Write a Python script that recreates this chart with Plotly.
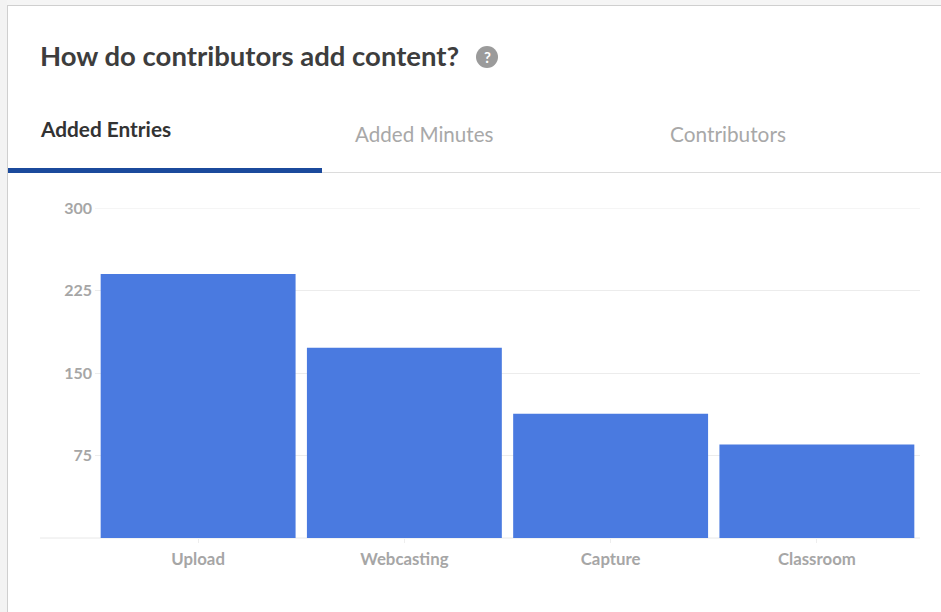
import plotly.graph_objects as go

categories = ["Upload", "Webcasting", "Capture", "Classroom"]
entries = [240, 173, 113, 85]
y_ticks = [75, 150, 225, 300]
tabs = ["Added Entries", "Added Minutes", "Contributors"]
title_text = "How do contributors add content?"

W, H = 941, 612
L, R, T, B = 95, 920, 208, 538


def fx(px):
    return (px - L) / (R - L)


def fy(py):
    return (B - py) / (B - T)


def rect(x0, y0, x1, y1, fill):
    return dict(type="rect", xref="paper", yref="paper", layer="below",
                x0=fx(x0), x1=fx(x1), y0=fy(y1), y1=fy(y0),
                fillcolor=fill, line=dict(color=fill, width=0))


def text(s, x, y, size, color, anchor="left", family="Lato"):
    return dict(text=s, xref="paper", yref="paper", x=fx(x), y=fy(y),
                xanchor=anchor, yanchor="middle", showarrow=False,
                font=dict(family=family, size=size, color=color))


fig = go.Figure(go.Bar(x=categories, y=entries, marker=dict(color="#4a7ae0", line=dict(width=0)),
                       width=0.945))

shapes = [
    rect(0, 0, W, 5, "#f5f5f5"),
    rect(0, 0, 7, H, "#f3f3f3"),
    rect(7, 5, W, 6, "#cfcfcf"),
    rect(7, 5, 8, H, "#cfcfcf"),
    rect(8, 172, W, 173, "#dcdcdc"),
    rect(8, 168, 322, 173, "#1b4a9c"),
    dict(type="line", xref="paper", yref="paper", layer="below", x0=fx(40), x1=fx(R),
         y0=fy(B), y1=fy(B), line=dict(color="#e8e8e8", width=1)),
    dict(type="line", xref="paper", yref="y", layer="below", x0=0, x1=1,
         y0=y_ticks[-1], y1=y_ticks[-1], line=dict(color="#ececec", width=1)),
    dict(type="circle", xref="paper", yref="paper", x0=fx(476), x1=fx(498),
         y0=fy(68), y1=fy(46), fillcolor="#9b9b9b", line=dict(width=0)),
]

annotations = [
    text("<b>" + title_text + "</b>", 38, 55.5, 27.5, "#3d3d3d"),
    text("<b>?</b>", 487, 57, 15, "#ffffff", "center"),
    text("<b>" + tabs[0] + "</b>", 38, 128, 20.8, "#333333"),
    text(tabs[1], 353, 134, 20.6, "#a8a8a8"),
    text(tabs[2], 668, 133, 20.8, "#a8a8a8"),
]

fig.update_layout(
    width=W, height=H, autosize=False,
    margin=dict(l=L, r=W - R, t=T, b=H - B, pad=0),
    paper_bgcolor="#ffffff", plot_bgcolor="#ffffff",
    showlegend=False,
    shapes=shapes, annotations=annotations,
    font=dict(family="Lato", size=16, color="#a6a6a6"),
    xaxis=dict(type="category", showgrid=False, zeroline=False, showline=False,
               ticks="outside", ticklen=4, tickcolor="#eeeeee", tickwidth=1,
               ticklabelstandoff=2,
               tickfont=dict(family="Lato", size=16.8, color="#a6a6a6", weight="bold"),
               range=[-0.5, 3.5]),
    yaxis=dict(range=[0, 300], tickvals=y_ticks, showgrid=True, gridcolor="#ececec",
               gridwidth=1, zeroline=False, showline=False, ticks="", ticklabelstandoff=2,
               tickfont=dict(family="Lato", size=16, color="#a6a6a6", weight="bold")),
)

fig.write_html("out.html", post_script="document.body.style.margin='0';", config=dict(displayModeBar=False))
